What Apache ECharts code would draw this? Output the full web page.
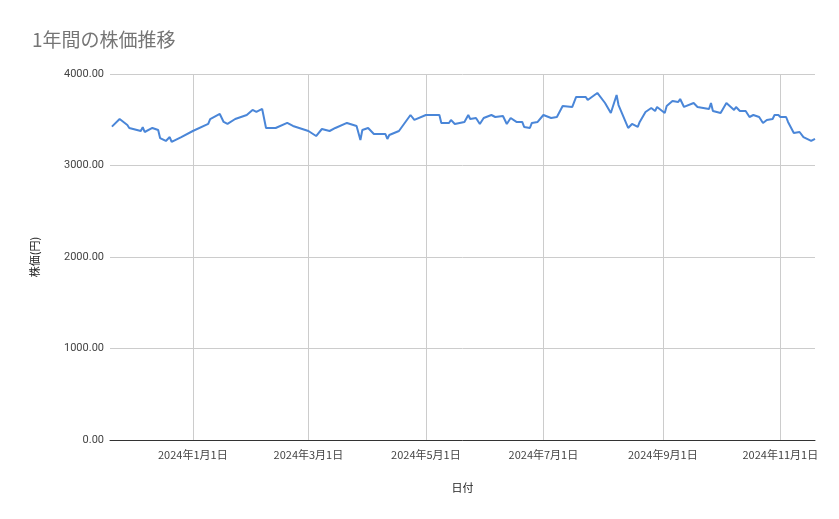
<!DOCTYPE html>
<html>
<head>
<meta charset="utf-8">
<script src="https://cdn.jsdelivr.net/npm/echarts@6/dist/echarts.min.js"></script>
<style>html,body{margin:0;padding:0;background:#fff}#main{width:839px;height:519px}</style>
</head>
<body>
<div id="main"></div>
<script>
// 日付と株価
var dates = [
  '2023-11-20','2023-11-24','2023-11-28','2023-11-29','2023-12-05','2023-12-06','2023-12-07','2023-12-11',
  '2023-12-14','2023-12-15','2023-12-18','2023-12-20','2023-12-21','2023-12-26','2024-01-01','2024-01-09',
  '2024-01-10','2024-01-15','2024-01-17','2024-01-19','2024-01-23','2024-01-29','2024-02-01','2024-02-03',
  '2024-02-06','2024-02-08','2024-02-13','2024-02-19','2024-02-22','2024-03-01','2024-03-05','2024-03-08',
  '2024-03-12','2024-03-15','2024-03-21','2024-03-26','2024-03-28','2024-03-29','2024-04-01','2024-04-04',
  '2024-04-10','2024-04-11','2024-04-12','2024-04-17','2024-04-23','2024-04-25','2024-05-01','2024-05-08',
  '2024-05-09','2024-05-13','2024-05-14','2024-05-16','2024-05-17','2024-05-21','2024-05-23','2024-05-24',
  '2024-05-27','2024-05-29','2024-05-31','2024-06-04','2024-06-06','2024-06-10','2024-06-12','2024-06-14',
  '2024-06-17','2024-06-20','2024-06-21','2024-06-24','2024-06-25','2024-06-28','2024-07-01','2024-07-05',
  '2024-07-08','2024-07-11','2024-07-16','2024-07-18','2024-07-23','2024-07-24','2024-07-29','2024-07-30',
  '2024-08-02','2024-08-05','2024-08-08','2024-08-09','2024-08-14','2024-08-16','2024-08-19','2024-08-20',
  '2024-08-23','2024-08-26','2024-08-28','2024-08-29','2024-09-02','2024-09-03','2024-09-06','2024-09-09',
  '2024-09-10','2024-09-12','2024-09-17','2024-09-19','2024-09-25','2024-09-26','2024-09-27','2024-10-01',
  '2024-10-04','2024-10-08','2024-10-09','2024-10-11','2024-10-14','2024-10-16','2024-10-18','2024-10-21',
  '2024-10-23','2024-10-25','2024-10-28','2024-10-29','2024-10-31','2024-11-01','2024-11-04','2024-11-05',
  '2024-11-08','2024-11-11','2024-11-13','2024-11-17','2024-11-18','2024-11-19'
];
var prices = [
  3425,3508,3443,3410,3377,3420,3366,3410,
  3388,3300,3268,3311,3257,3311,3377,3454,
  3508,3563,3476,3454,3508,3552,3607,3585,
  3618,3410,3410,3465,3432,3377,3322,3399,
  3377,3410,3465,3432,3279,3388,3410,3344,
  3344,3290,3333,3377,3552,3498,3552,3552,
  3465,3465,3498,3454,3454,3476,3552,3508,
  3519,3454,3519,3552,3530,3541,3454,3519,
  3476,3476,3421,3410,3465,3476,3552,3519,
  3530,3651,3640,3749,3749,3716,3793,3804,
  3683,3574,3771,3661,3410,3454,3421,3476,
  3585,3629,3596,3640,3574,3651,3705,3694,
  3727,3640,3683,3640,3618,3683,3596,3574,
  3683,3607,3640,3596,3596,3530,3552,3530,
  3465,3498,3508,3552,3552,3530,3530,3476,
  3355,3366,3311,3268,3279,3290
];
var tickDates = ['2024-01-01','2024-03-01','2024-05-01','2024-07-01','2024-09-01','2024-11-01'];

function ts(s) { var p = s.split('-'); return new Date(+p[0], +p[1] - 1, +p[2]).getTime(); }

var seriesData = dates.map(function (d, i) { return [ts(d), prices[i]]; });
var ticks = tickDates.map(ts);

var chart = echarts.init(document.getElementById('main'));
chart.setOption({
  animation: false,
  title: {
    text: '1年間の株価推移',
    left: 27, top: 25,
    textStyle: { fontFamily: 'Noto Sans CJK JP', fontSize: 19, fontWeight: 'normal', color: '#757575' }
  },
  grid: { left: 110, right: 24, top: 74, bottom: 79 },
  xAxis: {
    type: 'value',
    min: ts('2023-11-19'),
    max: ts('2024-11-19'),
    name: '日付',
    nameLocation: 'middle',
    nameGap: 42,
    nameTextStyle: { fontFamily: 'Noto Sans CJK JP', fontSize: 11, color: '#222' },
    axisLine: { onZero: false, lineStyle: { color: '#333' } },
    axisTick: { show: false, customValues: ticks },
    axisLabel: {
      customValues: ticks,
      fontFamily: 'Noto Sans CJK JP', fontSize: 11, color: '#444', margin: 9,
      formatter: function (v) {
        var d = new Date(v);
        return d.getFullYear() + '年' + (d.getMonth() + 1) + '月' + d.getDate() + '日';
      }
    },
    splitLine: { show: true, lineStyle: { color: '#ccc' } }
  },
  yAxis: {
    type: 'value',
    min: 0, max: 4000, interval: 1000,
    name: '株価(円)',
    nameLocation: 'middle',
    nameGap: 70,
    nameTextStyle: { fontFamily: 'Noto Sans CJK JP', fontSize: 11, color: '#222' },
    axisLine: { show: false },
    axisTick: { show: false },
    axisLabel: {
      fontFamily: 'Roboto', fontSize: 11, color: '#444', margin: 6,
      formatter: function (v) { return v.toFixed(2); }
    },
    splitLine: { lineStyle: { color: '#ccc' } }
  },
  series: [{
    type: 'line',
    data: seriesData,
    showSymbol: false,
    lineStyle: { color: '#4a86d8', width: 2 },
    itemStyle: { color: '#4a86d8' }
  }]
});
</script>
</body>
</html>
